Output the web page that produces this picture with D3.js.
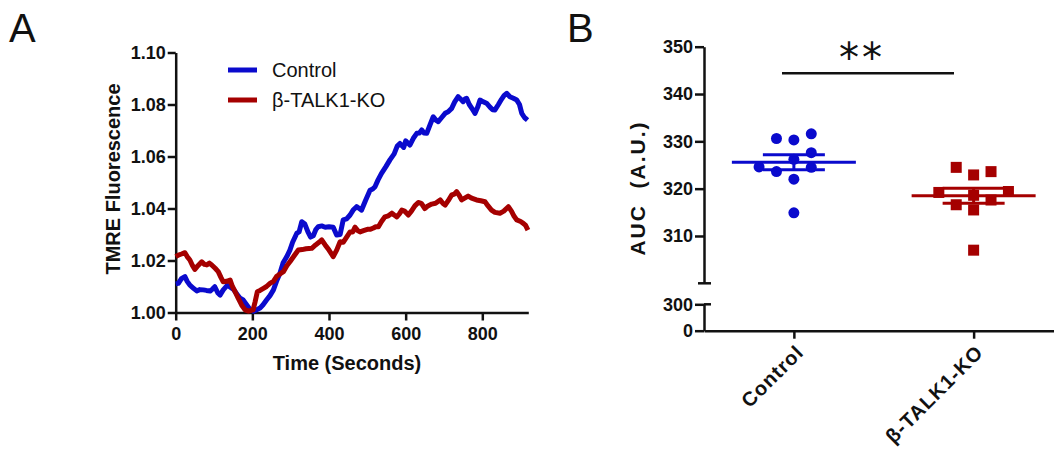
<!DOCTYPE html>
<html>
<head>
<meta charset="utf-8">
<script src="https://cdn.jsdelivr.net/npm/d3@7"></script>
<style>
body { margin: 0; background: #fff; }
svg text { font-family: "Liberation Sans", Arial, sans-serif; fill: #111; }
.axis path, .axis line { stroke: #111; stroke-width: 2.5; }
.axis text { font-size: 18px; font-weight: bold; fill: #111; }
</style>
</head>
<body>
<div id="chart"></div>
<script>
// ---- panel A: TMRE trace ----
var controlTime = [0, 7, 15, 24, 30, 37, 45, 55, 63, 72, 80, 90, 96, 102, 110, 116, 124, 135, 150, 160, 168, 176, 185, 194, 203, 211, 220, 228, 237, 246, 255, 263, 272, 280, 290, 298, 305, 316, 322, 329, 337, 345, 352, 359, 366, 372, 381, 390, 400, 411, 420, 429, 437, 446, 455, 463, 472, 479, 485, 495, 507, 514, 520, 528, 537, 548, 559, 570, 578, 585, 595, 600, 607, 611, 620, 629, 636, 642, 648, 655, 663, 672, 679, 685, 694, 703, 711, 720, 728, 737, 744, 750, 755, 759, 766, 775, 781, 788, 794, 803, 811, 820, 827, 833, 842, 850, 857, 864, 872, 881, 890, 897, 903, 910, 918];
var controlTMRE = [1.0110, 1.0112, 1.0130, 1.0138, 1.0120, 1.0105, 1.0095, 1.0083, 1.0088, 1.0087, 1.0085, 1.0083, 1.0090, 1.0099, 1.0075, 1.0067, 1.0087, 1.0105, 1.0090, 1.0070, 1.0055, 1.0048, 1.0030, 1.0012, 1.0005, 1.0010, 1.0017, 1.0030, 1.0048, 1.0065, 1.0087, 1.0120, 1.0151, 1.0190, 1.0215, 1.0240, 1.0270, 1.0305, 1.0310, 1.0349, 1.0340, 1.0310, 1.0290, 1.0295, 1.0320, 1.0330, 1.0333, 1.0328, 1.0330, 1.0328, 1.0298, 1.0300, 1.0356, 1.0360, 1.0375, 1.0394, 1.0407, 1.0400, 1.0394, 1.0430, 1.0470, 1.0475, 1.0484, 1.0510, 1.0535, 1.0560, 1.0587, 1.0610, 1.0640, 1.0650, 1.0635, 1.0660, 1.0650, 1.0644, 1.0670, 1.0689, 1.0690, 1.0702, 1.0690, 1.0689, 1.0720, 1.0753, 1.0740, 1.0734, 1.0750, 1.0766, 1.0772, 1.0785, 1.0810, 1.0830, 1.0820, 1.0811, 1.0822, 1.0824, 1.0800, 1.0780, 1.0766, 1.0790, 1.0817, 1.0810, 1.0805, 1.0790, 1.0780, 1.0779, 1.0800, 1.0820, 1.0835, 1.0843, 1.0830, 1.0824, 1.0817, 1.0800, 1.0766, 1.0750, 1.0740];

var koTime = [0, 7, 15, 24, 30, 37, 44, 50, 58, 68, 75, 81, 88, 94, 103, 111, 118, 124, 133, 142, 148, 155, 163, 172, 181, 190, 202, 207, 213, 220, 229, 237, 246, 255, 263, 272, 281, 290, 298, 310, 320, 330, 340, 355, 365, 374, 381, 390, 400, 411, 420, 429, 437, 446, 455, 462, 468, 475, 481, 490, 500, 507, 516, 522, 529, 537, 546, 555, 564, 570, 577, 584, 590, 597, 607, 615, 624, 633, 641, 650, 658, 668, 678, 690, 697, 703, 711, 720, 727, 733, 740, 746, 754, 763, 772, 785, 796, 807, 815, 824, 833, 846, 856, 868, 876, 883, 890, 900, 907, 913, 919];
var koTMRE = [1.0215, 1.0221, 1.0225, 1.0230, 1.0215, 1.0202, 1.0180, 1.0166, 1.0180, 1.0195, 1.0185, 1.0183, 1.0190, 1.0183, 1.0170, 1.0157, 1.0135, 1.0118, 1.0120, 1.0125, 1.0100, 1.0080, 1.0055, 1.0029, 1.0010, 1.0005, 1.0010, 1.0040, 1.0080, 1.0085, 1.0093, 1.0100, 1.0112, 1.0120, 1.0138, 1.0148, 1.0157, 1.0180, 1.0195, 1.0220, 1.0240, 1.0242, 1.0245, 1.0247, 1.0260, 1.0270, 1.0279, 1.0260, 1.0240, 1.0215, 1.0240, 1.0272, 1.0270, 1.0290, 1.0310, 1.0310, 1.0328, 1.0315, 1.0310, 1.0315, 1.0320, 1.0320, 1.0325, 1.0330, 1.0330, 1.0350, 1.0368, 1.0372, 1.0382, 1.0375, 1.0368, 1.0380, 1.0394, 1.0390, 1.0375, 1.0390, 1.0410, 1.0423, 1.0420, 1.0400, 1.0410, 1.0417, 1.0420, 1.0433, 1.0420, 1.0413, 1.0430, 1.0452, 1.0455, 1.0465, 1.0450, 1.0433, 1.0440, 1.0448, 1.0440, 1.0433, 1.0430, 1.0426, 1.0410, 1.0394, 1.0385, 1.0382, 1.0390, 1.0407, 1.0390, 1.0370, 1.0356, 1.0350, 1.0343, 1.0335, 1.0317];

var seriesNames = ["Control", "β-TALK1-KO"];
var xTicksA = [0, 200, 400, 600, 800];
var yTicksA = [1.00, 1.02, 1.04, 1.06, 1.08, 1.10];

// ---- panel B: AUC scatter ----
var groupNames = ["Control", "β-TALK1-KO"];
var controlAUC = [330.6, 330.3, 331.6, 327.6, 324.6, 323.6, 324.5, 322.0, 314.9, 326.2];
var koAUC = [324.5, 322.9, 323.6, 319.2, 319.4, 316.6, 315.5, 317.6, 307.0, 318.6];
// column (jitter slot) of each point in its scatter
var controlSlot = [-1, 0, 1, 1, -2, -1, 1, 0, 0, 0];
var koSlot = [-1, 0, 1, -2, 2, -1, 0, 1, 0, 0];
var yTicksBUpper = [310, 320, 330, 340, 350];
var yTicksBLower = [0, 300];

var colors = ["#0a0acd", "#a50000"];

var svg = d3.select("#chart").append("svg")
    .attr("width", 1054)
    .attr("height", 456);

// panel letters
svg.append("text").attr("x", 9).attr("y", 42).style("font-size", "40px").text("A");
svg.append("text").attr("x", 567).attr("y", 42).style("font-size", "40px").text("B");

// ================= panel A =================
var xA = d3.scaleLinear().domain([0, 920]).range([175.7, 528.3]);
var yA = d3.scaleLinear().domain([1.00, 1.10]).range([312.5, 52.5]);

var gA = svg.append("g");

gA.append("g")
    .attr("class", "axis")
    .attr("transform", "translate(0," + yA(1.00) + ")")
    .call(d3.axisBottom(xA).tickValues(xTicksA).tickSize(8).tickSizeOuter(0).tickPadding(7));

gA.append("g")
    .attr("class", "axis")
    .attr("transform", "translate(" + xA(0) + ",0)")
    .call(d3.axisLeft(yA).tickValues(yTicksA).tickFormat(d3.format(".2f")).tickSize(8).tickSizeOuter(0).tickPadding(2));

var line = d3.line()
    .x(d => xA(d[0]))
    .y(d => yA(d[1]));

var traces = [d3.zip(controlTime, controlTMRE), d3.zip(koTime, koTMRE)];

gA.selectAll("path.trace")
    .data(traces)
    .enter()
    .append("path")
    .attr("class", "trace")
    .attr("d", line)
    .attr("fill", "none")
    .attr("stroke", (d, i) => colors[i])
    .attr("stroke-width", 5)
    .attr("stroke-linejoin", "round");

// axis titles
gA.append("text")
    .attr("x", 347)
    .attr("y", 370)
    .attr("text-anchor", "middle")
    .style("font-size", "20px")
    .style("font-weight", "bold")
    .text("Time (Seconds)");

gA.append("text")
    .attr("transform", "translate(120,179) rotate(-90)")
    .attr("text-anchor", "middle")
    .style("font-size", "20px")
    .style("font-weight", "bold")
    .text("TMRE Fluorescence");

// legend
var legend = gA.selectAll("g.legend")
    .data(seriesNames)
    .enter()
    .append("g")
    .attr("class", "legend")
    .attr("transform", (d, i) => "translate(228," + (70 + i * 30) + ")");

legend.append("line")
    .attr("x1", 0).attr("x2", 29)
    .attr("stroke", (d, i) => colors[i])
    .attr("stroke-width", 5);

legend.append("text")
    .attr("x", 44)
    .attr("dy", "0.36em")
    .style("font-size", "20px")
    .text(d => d);

// ================= panel B =================
var xB = d3.scalePoint().domain(groupNames).range([704, 1063.5]).padding(0.5);
var yUp = d3.scaleLinear().domain([300, 350]).range([283.3, 46.7]);
var yLow = d3.scaleLinear().domain([0, 300]).range([330.7, 304.3]);
var slotWidth = 17.4;

var gB = svg.append("g");

gB.append("g")
    .attr("class", "axis")
    .attr("transform", "translate(704,0)")
    .call(d3.axisLeft(yUp).tickValues(yTicksBUpper).tickSize(9).tickSizeOuter(0).tickPadding(2));

gB.append("g")
    .attr("class", "axis")
    .attr("transform", "translate(704,0)")
    .call(d3.axisLeft(yLow).tickValues(yTicksBLower).tickSize(9).tickSizeOuter(0).tickPadding(2));

// break caps on the split axis
gB.append("line")
    .attr("x1", 698).attr("x2", 711)
    .attr("y1", yUp(300)).attr("y2", yUp(300))
    .attr("stroke", "#111").attr("stroke-width", 2.5);
gB.append("line")
    .attr("x1", 704).attr("x2", 711)
    .attr("y1", yLow(300)).attr("y2", yLow(300))
    .attr("stroke", "#111").attr("stroke-width", 2.5);

gB.append("g")
    .attr("class", "axis")
    .attr("transform", "translate(0," + yLow(0) + ")")
    .call(d3.axisBottom(xB).tickSize(8).tickSizeOuter(0).tickFormat(""));

gB.selectAll("text.cat")
    .data(groupNames)
    .enter()
    .append("text")
    .attr("class", "cat")
    .attr("transform", d => "translate(" + (xB(d) + 6) + "," + (yLow(0) + 18) + ") rotate(-45)")
    .attr("text-anchor", "end")
    .attr("dy", "0.35em")
    .style("font-size", "20px")
    .style("font-weight", "bold")
    .style("letter-spacing", "1px")
    .text(d => d);

gB.append("text")
    .attr("transform", "translate(645,188) rotate(-90)")
    .attr("text-anchor", "middle")
    .style("font-size", "21px")
    .style("font-weight", "bold")
    .style("letter-spacing", "2px")
    .style("white-space", "pre")
    .text("AUC  (A.U.)");

// scatter points
var groups = [
    { name: groupNames[0], values: controlAUC, color: colors[0] },
    { name: groupNames[1], values: koAUC, color: colors[1] }
];

// control: circles
gB.selectAll("circle.pt")
    .data(d3.zip(controlAUC, controlSlot))
    .enter()
    .append("circle")
    .attr("class", "pt")
    .attr("cx", d => xB(groupNames[0]) + d[1] * slotWidth)
    .attr("cy", d => yUp(d[0]))
    .attr("r", 5.5)
    .attr("fill", colors[0]);

// KO: squares
gB.selectAll("rect.pt")
    .data(d3.zip(koAUC, koSlot))
    .enter()
    .append("rect")
    .attr("class", "pt")
    .attr("x", d => xB(groupNames[1]) + d[1] * slotWidth - 5.5)
    .attr("y", d => yUp(d[0]) - 5.5)
    .attr("width", 11)
    .attr("height", 11)
    .attr("fill", colors[1]);

// mean and SEM
groups.forEach(function(g) {
    var cx = xB(g.name);
    var m = d3.mean(g.values);
    var sem = d3.deviation(g.values) / Math.sqrt(g.values.length);
    var eg = gB.append("g").attr("stroke", g.color).attr("stroke-width", 3);
    eg.append("line").attr("x1", cx - 62).attr("x2", cx + 62).attr("y1", yUp(m)).attr("y2", yUp(m));
    eg.append("line").attr("x1", cx).attr("x2", cx).attr("y1", yUp(m - sem)).attr("y2", yUp(m + sem));
    eg.append("line").attr("x1", cx - 31).attr("x2", cx + 31).attr("y1", yUp(m + sem)).attr("y2", yUp(m + sem));
    eg.append("line").attr("x1", cx - 31).attr("x2", cx + 31).attr("y1", yUp(m - sem)).attr("y2", yUp(m - sem));
});

// significance bar
gB.append("line")
    .attr("x1", 782).attr("x2", 954)
    .attr("y1", 73.3).attr("y2", 73.3)
    .attr("stroke", "#111").attr("stroke-width", 2.5);

gB.append("text")
    .attr("x", 862)
    .attr("y", 72)
    .attr("text-anchor", "middle")
    .style("font-family", "'DejaVu Sans', sans-serif")
    .style("font-size", "40px")
    .style("letter-spacing", "3px")
    .text("**");
</script>
</body>
</html>
